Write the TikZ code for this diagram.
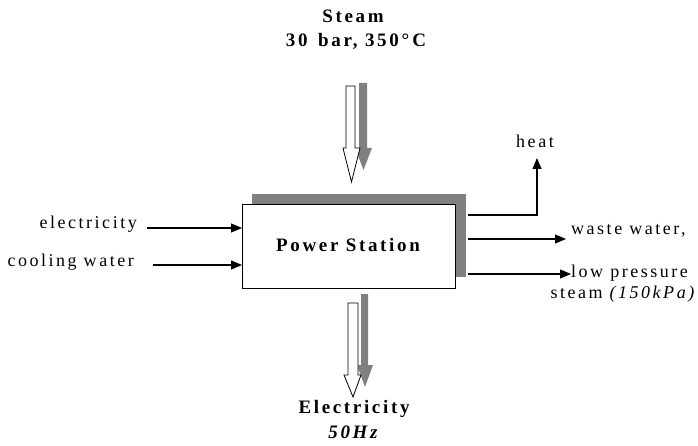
\documentclass[tikz,border=0pt]{standalone}
\usepackage{fontspec}
\setmainfont[LetterSpace=14]{Liberation Serif}
\usetikzlibrary{arrows.meta}
\begin{document}
\begin{tikzpicture}[x=1pt,y=-1pt,
  lbl/.style={inner sep=0pt,font=\fontsize{18}{20}\selectfont},
  blbl/.style={inner sep=0pt,font=\fontsize{19}{21}\selectfont\bfseries},
  arr/.style={line width=1.2pt,-{Triangle[length=11pt,width=9pt]}},
  hollow/.style={draw=black,fill=white,line width=0.8pt},
  shade/.style={fill=black!50,draw=none}]
\useasboundingbox (0,0) rectangle (698,446);
% box with shadow
\fill[black!50] (252,194) rectangle (466,277);
\node[draw,line width=0.8pt,fill=white,minimum width=213pt,minimum height=84pt,anchor=north west,inner sep=0pt] (ps) at (242,204) {};
\node[blbl] (pst) at (348,245) {Power Station};
% top texts
\node[blbl] (st1) at (353,16) {Steam};
\node[blbl] (st2) at (356,41) {30\ \,bar, 350°\,C};
% steam arrows
\fill[black!50] (359,83) -- (367,83) -- (367,148) -- (372,148) -- (363.5,170) -- (355,148) -- (359,148) -- cycle;
\draw[hollow] (346,86) -- (355,86) -- (355,148) -- (360,148) -- (351.5,182) -- (343,148) -- (346,148) -- cycle;
% bottom arrows
\fill[black!50] (361,294) -- (368,294) -- (368,365) -- (373,365) -- (365,387) -- (357,365) -- (361,365) -- cycle;
\draw[hollow] (348,303) -- (358,303) -- (358,375) -- (361,375) -- (353,397) -- (344,375) -- (348,375) -- cycle;
\node[blbl] (el1) at (354,409) {Electricity};
\node[blbl] (el2) at (353,432) {\itshape 50Hz};
% left inputs
\node[lbl,anchor=east] (elec) at (137,224) {electricity};
\node[lbl,anchor=east] (cool) at (134,262) {cooling water};
\coordinate (ein) at (147,228);
\coordinate (cin) at (153,265);
\draw[arr] (ein) -- (ein -| ps.west);
\draw[arr] (cin) -- (cin -| ps.west);
% right outputs
\coordinate (h0) at (468,215);
\coordinate (h1) at (537,215);
\coordinate (htip) at (537,158);
\node[lbl] (heat) at (535,141) {heat};
\draw[arr] (h0) -- (h1) -- (htip);
\coordinate (w0) at (468,239);
\node[lbl,anchor=west] (ww) at (571,231) {waste water,};
\draw[arr,shorten >=5pt] (w0) -- (w0 -| ww.west);
\coordinate (l0) at (468,274);
\node[lbl,anchor=west] (lp) at (571,273) {low pressure};
\node[lbl,anchor=east] (lp2) at (697,294) {steam \textit{(150kPa)}};
\draw[arr] (l0) -- (l0 -| lp.west);
\end{tikzpicture}
\end{document}
